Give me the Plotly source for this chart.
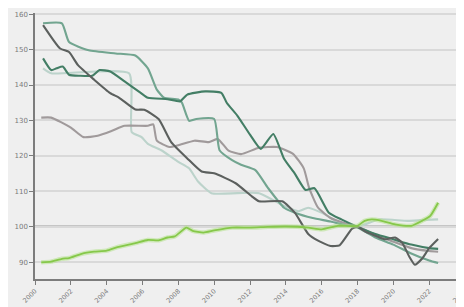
import plotly.graph_objects as go

# ---- data (years, index values) ----
green_x = [2000.35, 2000.9, 2001.5, 2001.9, 2002.6, 2003.3, 2004, 2004.6, 2005.6, 2006.3, 2006.9, 2007.4, 2007.8,
           2008.45, 2008.8, 2009.4, 2010, 2011, 2012, 2013, 2014, 2015.25, 2016, 2016.9, 2018, 2018.4, 2018.8,
           2019.35, 2020.1, 2021, 2021.6, 2022.05, 2022.5]
green_y = [90, 90.2, 91, 91.2, 92.4, 93, 93.3, 94.3, 95.4, 96.3, 96.2, 97, 97.3,
           99.8, 98.9, 98.4, 99, 99.8, 99.8, 100, 100.1, 99.8, 99.3, 100.3, 100.3, 101.7, 102.1,
           101.7, 100.7, 100.3, 101.7, 103, 106.8]

dkgrey_x = [2000.45, 2001.4, 2001.9, 2002.4, 2003.3, 2004.2, 2004.7, 2005.6, 2006.1, 2006.9, 2007.6, 2008.5,
            2009.3, 2010, 2011.2, 2012.1, 2012.5, 2013.8, 2014.5, 2015.25, 2015.8, 2016.5, 2017, 2017.7, 2018,
            2018.5, 2019, 2019.5, 2020.1, 2020.5, 2020.9, 2021.2, 2021.6, 2022, 2022.5]
dkgrey_y = [156.9, 150.3, 149.3, 145.6, 141.5, 137.7, 136.4, 133.1, 133, 130.4, 123.9, 119.3,
            115.6, 115.1, 112.3, 108.6, 107.2, 107.2, 104, 98, 96.1, 94.6, 94.8, 99.5, 100,
            98.5, 97.5, 96.5, 97, 95.5, 91.5, 89.3, 91, 94, 96.6]

dkgreen_x = [2000.45, 2000.9, 2001.2, 2001.55, 2001.9, 2002.5, 2003.2, 2003.6, 2004.2, 2005, 2005.9, 2006.3,
             2007.4, 2008.1, 2008.5, 2009.5, 2010.4, 2010.7, 2011.3, 2012, 2012.6, 2013.3, 2013.9, 2014.5,
             2015.1, 2015.6, 2016.4, 2017.1, 2018, 2019, 2020, 2021, 2022, 2022.5]
dkgreen_y = [147.5, 144.2, 144.7, 145.2, 142.9, 142.6, 142.6, 144.2, 143.8, 141, 137.8, 136.4,
             136, 135.4, 137.3, 138.2, 137.8, 135, 131.3, 126, 122, 126.2, 119.2, 115,
             110.4, 110.9, 104, 102.1, 100, 98, 96.5, 95, 94, 93.8]

teal_x = [2000.45, 2001.5, 2001.9, 2003, 2004.5, 2005.6, 2006.3, 2006.8, 2007.2, 2008, 2008.2, 2008.6, 2009,
          2010, 2010.3, 2011, 2011.5, 2012.3, 2013, 2013.9, 2014.5, 2015.5, 2016.5, 2017.3, 2018, 2019, 2020,
          2021, 2022, 2022.5]
teal_y = [157.4, 157.4, 152.1, 149.8, 148.9, 148.3, 144.7, 138.7, 136.4, 135.9, 135, 129.9, 130.4,
          130.4, 121.6, 118.8, 117.5, 116, 111, 105.4, 104, 102.5, 101.5, 100.5, 99.8, 97, 95,
          92.5, 90.5, 89.8]

ltteal_x = [2000.45, 2000.9, 2005.25, 2005.4, 2005.95, 2006.3, 2007.05, 2008, 2008.6, 2009.1, 2009.85, 2011.3,
            2012.5, 2013.95, 2014.7, 2015.25, 2016.2, 2016.9, 2018, 2019.2, 2020.8, 2022.5]
ltteal_y = [144.7, 143.3, 143.3, 126.7, 125.3, 123.4, 121.6, 118.3, 116.5, 112.8, 109.5, 109.5,
            109.5, 105.8, 104.4, 105.4, 103.5, 101.2, 100, 102.1, 101.7, 102.1]

grey_x = [2000.35, 2000.9, 2002, 2002.7, 2003.5, 2004.3, 2005, 2006.3, 2006.6, 2006.8, 2007.5, 2008, 2008.9,
          2009.7, 2010.2, 2010.8, 2011.5, 2012.5, 2013.5, 2014.4, 2015, 2015.3, 2015.8, 2016.5, 2017.3, 2018,
          2019, 2020, 2021, 2022, 2022.5]
grey_y = [130.8, 130.8, 128, 125.3, 125.7, 127.1, 128.5, 128.5, 128.9, 124.3, 122.5, 123, 124.3,
          123.9, 124.8, 121.5, 120.5, 122.3, 122.5, 120.6, 116.5, 111, 105.4, 102.5, 101, 100,
          97.8, 95.8, 94, 93.2, 93]

x_ticks = list(range(2000, 2025, 2))
y_ticks = list(range(90, 161, 10))

fig = go.Figure()

def add(x, y, color, width=2.1):
    fig.add_trace(go.Scatter(x=x, y=y, mode="lines",
                             line=dict(color=color, width=width, shape="spline", smoothing=0.5),
                             hoverinfo="skip", showlegend=False))

add(ltteal_x, ltteal_y, "#bcd3cb")
add(grey_x, grey_y, "#a09a9b")
add(teal_x, teal_y, "#72a590")
add(dkgreen_x, dkgreen_y, "#437e65")
add(dkgrey_x, dkgrey_y, "#5c605e")
add(green_x, green_y, "rgba(180,225,140,0.55)", 4.5)
add(green_x, green_y, "#86c84a", 1.8)

fig.add_shape(type="line", xref="paper", x0=0, x1=1, yref="y", y0=100, y1=100,
              line=dict(color="#9c9c9c", width=2.5), layer="below")

fig.update_layout(
    width=464, height=307,
    margin=dict(l=27, r=7, t=3, b=36),
    paper_bgcolor="#efefef", plot_bgcolor="#efefef",
    font=dict(family="DejaVu Sans", size=6.5, color="#7a7a7a"),
)
fig.update_xaxes(range=[2000, 2024], tickvals=x_ticks, ticktext=[str(v) for v in x_ticks],
                 tickangle=-45, showgrid=False, zeroline=False, ticklabeloverflow="allow",
                 showline=True, linecolor="#7c7c7c", linewidth=1.5,
                 ticks="outside", ticklen=4, tickcolor="#7c7c7c", tickwidth=1)
fig.update_yaxes(range=[85.3, 160.3], tickvals=y_ticks, ticktext=[str(v) for v in y_ticks],
                 showgrid=True, gridcolor="#d9d9d9", gridwidth=1.5, zeroline=False, ticklabeloverflow="allow",
                 showline=True, linecolor="#7c7c7c", linewidth=1.5, tickfont=dict(size=7),
                 ticks="outside", ticklen=4, tickcolor="#7c7c7c", tickwidth=1)

fig.write_html("out.html")
